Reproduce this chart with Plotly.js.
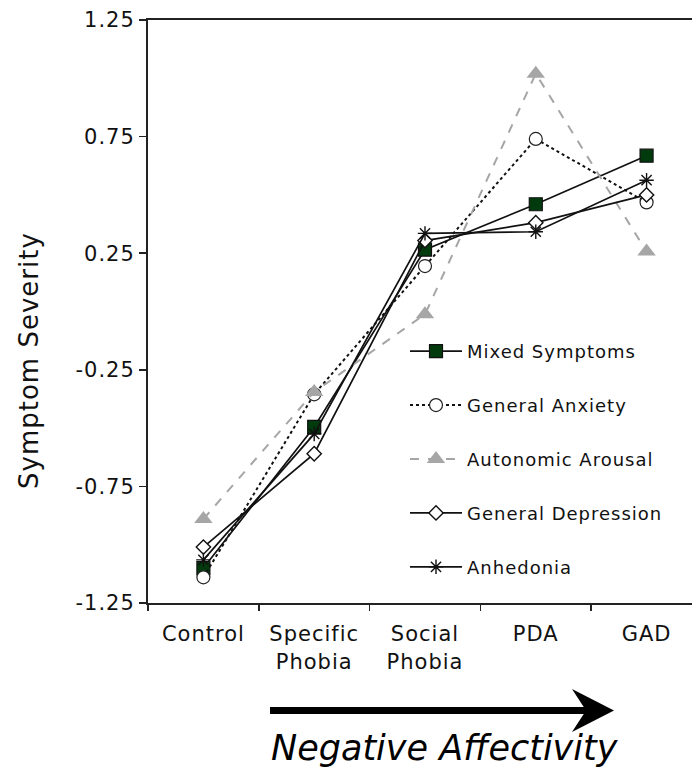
<!DOCTYPE html>
<html>
<head>
<meta charset="utf-8">
<script src="https://cdn.plot.ly/plotly-3.0.1.min.js"></script>
<style>
  html, body { margin: 0; padding: 0; background: #fff; }
  #chart { width: 692px; height: 773px; }
  .xtick text, .ytick text, .legendtext, .annotation[data-index="0"] text { letter-spacing: 1px; }
</style>
</head>
<body>
<div id="chart"></div>
<script>
// ---- data ----
const categories = ["Control", "Specific<br>Phobia", "Social<br>Phobia", "PDA", "GAD"];
const mixedSymptoms     = [-1.10, -0.495, 0.265, 0.46, 0.668];
const generalAnxiety    = [-1.14, -0.355, 0.195, 0.74, 0.468];
const autonomicArousal  = [-0.89, -0.345, -0.012, 1.02, 0.257];
const generalDepression = [-1.01, -0.61, 0.304, 0.381, 0.50];
const anhedonia         = [-1.065, -0.525, 0.335, 0.342, 0.563];
const yTickVals = [-1.25, -0.75, -0.25, 0.25, 0.75, 1.25];
const yTickText = ["-1.25", "-0.75", "-0.25", "0.25", "0.75", "1.25"];

const FONT = "DejaVu Sans, Verdana, sans-serif";

// plot area in pixels
const W = 692, H = 773;
const L = 148, R = 0, T = 20, B = 170;
const PW = W - L - R, PH = H - T - B;
const px = x => (x - L) / PW;
const py = y => (H - B - y) / PH;

function tr(name, y, line, marker) {
  return {
    type: "scatter", mode: "lines+markers", name: name, legendgroup: name,
    x: categories, y: y, line: line, marker: marker, cliponaxis: false
  };
}

const traces = [
  tr("Mixed Symptoms", mixedSymptoms,
     {color: "#111", width: 1.7},
     {symbol: "square", size: 13, color: "#013a0d", line: {color: "#111", width: 1.2}}),
  tr("General Anxiety", generalAnxiety,
     {color: "#111", width: 2, dash: "dot"},
     {symbol: "circle", size: 13, color: "#fff", line: {color: "#222", width: 1.2}}),
  tr("Autonomic Arousal", autonomicArousal,
     {color: "#a6a6a6", width: 2, dash: "dash"},
     {symbol: "triangle-up", size: 16, color: "#a6a6a6", line: {color: "#a6a6a6", width: 0}}),
  tr("General Depression", generalDepression,
     {color: "#111", width: 1.7},
     {symbol: "diamond", size: 11, color: "#fff", line: {color: "#111", width: 1.4}}),
  tr("Anhedonia", anhedonia,
     {color: "#111", width: 1.7},
     {symbol: "asterisk-open", size: 12, color: "#111", line: {color: "#111", width: 1.4}})
];

const arrowPath = "M" + px(572) + "," + py(689) +
                  " L" + px(614) + "," + py(710.5) +
                  " L" + px(572) + "," + py(732) +
                  " L" + px(586) + "," + py(710.5) + " Z";

const layout = {
  width: W, height: H,
  margin: {l: L, r: R, t: T, b: B, pad: 0},
  paper_bgcolor: "#fff", plot_bgcolor: "#fff",
  font: {family: FONT, color: "#111", size: 18},
  showlegend: true,
  legend: {
    x: px(405), y: py(333), xanchor: "left", yanchor: "top",
    bgcolor: "rgba(0,0,0,0)", borderwidth: 0,
    font: {family: FONT, size: 18, color: "#111"},
    tracegroupgap: 27.5, itemwidth: 52
  },
  xaxis: {
    type: "category", range: [-0.5, 4.41],
    tickson: "boundaries", ticks: "outside", ticklen: 6, tickwidth: 1.5, tickcolor: "#222",
    showline: true, linecolor: "#222", linewidth: 2, mirror: true,
    showgrid: false, zeroline: false, ticklabelstandoff: 11,
    tickfont: {family: FONT, size: 21, color: "#111"},
    fixedrange: true
  },
  yaxis: {
    range: [-1.25, 1.25], tickvals: yTickVals, ticktext: yTickText,
    ticks: "outside", ticklen: 7, tickwidth: 1.5, tickcolor: "#222",
    showline: true, linecolor: "#222", linewidth: 2,
    showgrid: false, zeroline: false,
    tickfont: {family: FONT, size: 21, color: "#111"},
    fixedrange: true
  },
  shapes: [
    {type: "rect", xref: "paper", yref: "paper",
     x0: px(270), x1: px(588), y0: py(707), y1: py(714),
     fillcolor: "#000", line: {width: 0}},
    {type: "path", xref: "paper", yref: "paper", path: arrowPath,
     fillcolor: "#000", line: {width: 0}}
  ],
  annotations: [
    {text: "Symptom Severity", xref: "paper", yref: "paper",
     x: px(29), y: py(361), xanchor: "center", yanchor: "middle", showarrow: false,
     textangle: -90, font: {family: FONT, size: 26, color: "#111"}},
    {text: "Negative Affectivity", xref: "paper", yref: "paper",
     x: px(445), y: py(748), xanchor: "center", yanchor: "middle", showarrow: false,
     font: {family: FONT, size: 35, color: "#000", style: "italic"}}
  ]
};

Plotly.newPlot("chart", traces, layout, {displayModeBar: false, staticPlot: true});
</script>
</body>
</html>
